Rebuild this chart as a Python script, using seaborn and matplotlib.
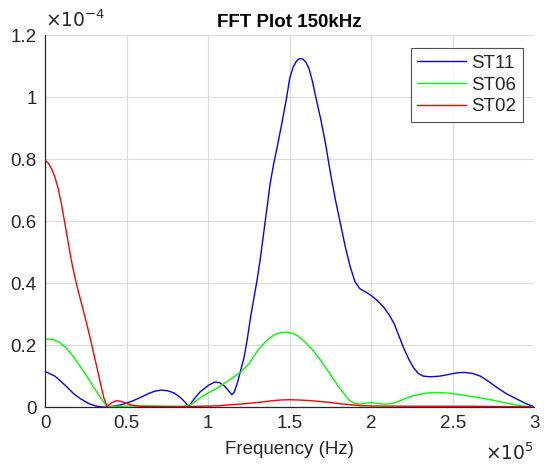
import numpy as np
import pandas as pd
import matplotlib
matplotlib.use("Agg")
import matplotlib.pyplot as plt
import seaborn as sns
from matplotlib.ticker import FuncFormatter, MultipleLocator

# Frequency knots (x 1e5 Hz) and spectral magnitudes (x 1e-4) per station
st11_freq = [0.00, 0.06, 0.12, 0.18, 0.22, 0.27, 0.31, 0.34, 0.37, 0.42, 0.46, 0.50,
             0.54, 0.58, 0.63, 0.67, 0.71, 0.75, 0.79, 0.83, 0.86, 0.88, 0.91, 0.95,
             1.00, 1.04, 1.07, 1.10, 1.13, 1.145, 1.16, 1.18, 1.20, 1.22, 1.24, 1.26,
             1.28, 1.30, 1.32, 1.34, 1.36, 1.38, 1.40, 1.42, 1.45, 1.48, 1.50, 1.52,
             1.54, 1.56, 1.58, 1.60, 1.62, 1.64, 1.66, 1.69, 1.72, 1.75, 1.78, 1.81,
             1.84, 1.87, 1.90, 1.93, 1.97, 2.00, 2.04, 2.08, 2.11, 2.14, 2.17, 2.20,
             2.23, 2.26, 2.29, 2.32, 2.36, 2.42, 2.48, 2.53, 2.57, 2.62, 2.67, 2.72,
             2.77, 2.83, 2.89, 2.95, 3.00]
st11_amp = [0.115, 0.100, 0.072, 0.041, 0.026, 0.011, 0.004, 0.001, 0.000, 0.003, 0.007, 0.013,
            0.021, 0.030, 0.043, 0.051, 0.055, 0.053, 0.046, 0.031, 0.015, 0.001, 0.024, 0.049,
            0.070, 0.081, 0.079, 0.068, 0.050, 0.040, 0.048, 0.080, 0.120, 0.160, 0.220, 0.290,
            0.350, 0.410, 0.480, 0.560, 0.640, 0.720, 0.780, 0.830, 0.910, 0.995, 1.060, 1.095,
            1.115, 1.124, 1.123, 1.112, 1.090, 1.050, 1.000, 0.930, 0.850, 0.755, 0.670, 0.595,
            0.520, 0.455, 0.405, 0.382, 0.370, 0.360, 0.343, 0.320, 0.298, 0.270, 0.230, 0.190,
            0.155, 0.127, 0.108, 0.100, 0.098, 0.100, 0.106, 0.111, 0.112, 0.109, 0.100, 0.083,
            0.064, 0.043, 0.027, 0.011, 0.001]

st06_freq = [0.00, 0.05, 0.09, 0.13, 0.17, 0.21, 0.26, 0.30, 0.34, 0.38, 0.45, 0.55,
             0.65, 0.75, 0.85, 0.90, 0.95, 1.00, 1.05, 1.10, 1.15, 1.20, 1.25, 1.30,
             1.35, 1.40, 1.44, 1.48, 1.52, 1.56, 1.60, 1.64, 1.68, 1.72, 1.76, 1.80,
             1.84, 1.87, 1.90, 1.93, 1.97, 2.00, 2.04, 2.08, 2.12, 2.15, 2.20, 2.25,
             2.30, 2.36, 2.42, 2.48, 2.55, 2.62, 2.69, 2.76, 2.82, 2.88, 2.94, 3.00]
st06_amp = [0.220, 0.218, 0.208, 0.190, 0.165, 0.135, 0.096, 0.062, 0.030, 0.001, 0.003, 0.004,
            0.004, 0.003, 0.002, 0.010, 0.030, 0.046, 0.060, 0.077, 0.095, 0.113, 0.140, 0.180,
            0.210, 0.232, 0.240, 0.242, 0.238, 0.226, 0.207, 0.185, 0.158, 0.128, 0.097, 0.066,
            0.038, 0.020, 0.012, 0.010, 0.013, 0.015, 0.012, 0.010, 0.011, 0.015, 0.026, 0.036,
            0.042, 0.047, 0.047, 0.045, 0.040, 0.034, 0.028, 0.021, 0.014, 0.008, 0.003, 0.001]

st02_freq = [0.00, 0.02, 0.04, 0.06, 0.08, 0.10, 0.12, 0.14, 0.16, 0.18, 0.20, 0.22,
             0.24, 0.26, 0.28, 0.30, 0.32, 0.34, 0.36, 0.38, 0.41, 0.44, 0.47, 0.50,
             0.53, 0.57, 0.65, 0.80, 0.95, 1.05, 1.12, 1.20, 1.26, 1.32, 1.38, 1.44,
             1.50, 1.56, 1.63, 1.69, 1.75, 1.81, 1.87, 1.93, 2.00, 2.20, 2.40, 2.60,
             2.80, 3.00]
st02_amp = [0.795, 0.787, 0.768, 0.742, 0.705, 0.655, 0.595, 0.535, 0.475, 0.425, 0.380, 0.340,
            0.300, 0.258, 0.214, 0.168, 0.122, 0.075, 0.030, 0.002, 0.015, 0.021, 0.018, 0.012,
            0.007, 0.003, 0.002, 0.002, 0.003, 0.004, 0.007, 0.010, 0.013, 0.016, 0.020, 0.023,
            0.024, 0.023, 0.021, 0.018, 0.015, 0.011, 0.008, 0.005, 0.004, 0.003, 0.003, 0.003,
            0.002, 0.001]

stations = ["ST11", "ST06", "ST02"]
line_colors = {"ST11": "#0000FF", "ST06": "#00FF00", "ST02": "#FF0000"}

frames = []
for name, f, a in [("ST11", st11_freq, st11_amp),
                   ("ST06", st06_freq, st06_amp),
                   ("ST02", st02_freq, st02_amp)]:
    frames.append(pd.DataFrame({"freq": np.asarray(f) * 1e5,
                                "amp": np.asarray(a) * 1e-4,
                                "station": name}))
spectra = pd.concat(frames, ignore_index=True)

sns.set_theme(style="white")
plt.rcParams["font.family"] = ["Liberation Sans", "DejaVu Sans"]

fig = plt.figure(figsize=(5.44, 4.74), dpi=100)
ax = fig.add_axes([0.083, 0.141, 0.899, 0.785])

sns.lineplot(data=spectra, x="freq", y="amp", hue="station", hue_order=stations,
             palette=line_colors, estimator=None, sort=False, linewidth=1.0, ax=ax)

ax.set_xlim(0, 3e5)
ax.set_ylim(0, 1.2e-4)
ax.xaxis.set_major_locator(MultipleLocator(0.5e5))
ax.yaxis.set_major_locator(MultipleLocator(0.2e-4))
ax.xaxis.set_major_formatter(FuncFormatter(lambda v, p: f"{v / 1e5:g}"))
ax.yaxis.set_major_formatter(FuncFormatter(lambda v, p: f"{v / 1e-4:g}"))

ax.grid(True, color="#dcdcdc", linewidth=0.8)
ax.set_axisbelow(True)
for side in ("top", "right"):
    ax.spines[side].set_visible(False)
for side in ("left", "bottom"):
    ax.spines[side].set_color("#262626")
    ax.spines[side].set_linewidth(0.9)

ax.tick_params(axis="both", direction="in", length=4, width=0.8, color="#262626",
               labelsize=13.5, labelcolor="#262626", pad=6)

ax.set_xlabel("Frequency (Hz)", fontsize=13.5, color="#262626", labelpad=6)
ax.set_ylabel("")
ax.set_title("FFT Plot 150kHz", fontsize=13.5, fontweight="bold", color="#000000", pad=6)

ax.text(0.0, 1.01, r"$\times10^{-4}$", transform=ax.transAxes, ha="left", va="bottom",
        fontsize=13.5, color="#262626")
ax.text(1.0, -0.095, r"$\times10^{5}$", transform=ax.transAxes, ha="right", va="top",
        fontsize=13.5, color="#262626")

leg = ax.legend(loc="upper right", bbox_to_anchor=(0.985, 0.975), frameon=True,
                fancybox=False, edgecolor="#262626", fontsize=13.5, handlelength=2.6,
                borderpad=0.35, labelspacing=0.25, handletextpad=0.3, borderaxespad=0.2)
leg.get_frame().set_linewidth(0.8)

fig.savefig("out.png", dpi=100, facecolor="white")
